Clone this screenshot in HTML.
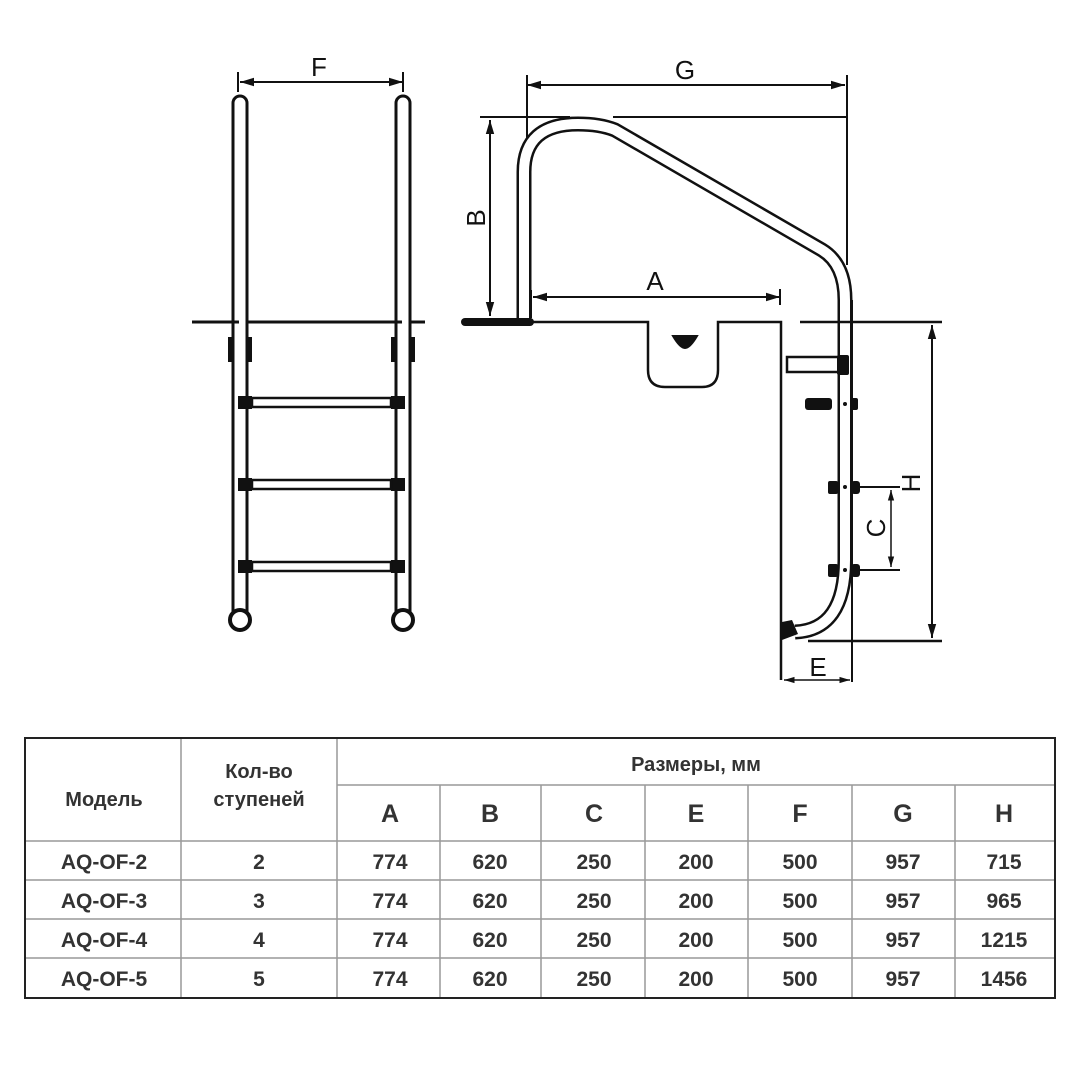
<!DOCTYPE html>
<html><head><meta charset="utf-8"><style>
html,body{margin:0;padding:0;background:#fff;}
body{width:1080px;height:1080px;overflow:hidden;font-family:"Liberation Sans",sans-serif;}
</style></head><body>
<svg width="1080" height="1080" viewBox="0 0 1080 1080" xmlns="http://www.w3.org/2000/svg" font-family="Liberation Sans, sans-serif">
<defs>
<marker id="ar" viewBox="0 0 10 10" refX="10" refY="5" markerWidth="7" markerHeight="7" orient="auto-start-reverse"><path d="M0,2 L10,5 L0,8 z" fill="#111"/></marker>
</defs>
<g stroke="#111" fill="none" stroke-width="2">
<!-- LEFT LADDER -->
<line x1="240" y1="82" x2="403" y2="82" marker-start="url(#ar)" marker-end="url(#ar)"/>
<line x1="238" y1="72" x2="238" y2="92"/><line x1="403" y1="72" x2="403" y2="92"/>
<line x1="192" y1="322" x2="425" y2="322" stroke-width="3"/>
<path d="M233,103 a7,7 0 0 1 14,0 V615 M233,103 V615" stroke-width="3" fill="#fff"/>
<path d="M396,103 a7,7 0 0 1 14,0 V615 M396,103 V615" stroke-width="3" fill="#fff"/>
<ellipse cx="240" cy="620" rx="10" ry="10" stroke-width="4" fill="#fff"/>
<ellipse cx="403" cy="620" rx="10" ry="10" stroke-width="4" fill="#fff"/>
<g fill="#111" stroke="none">
<rect x="228" y="337" width="5" height="25"/><rect x="247" y="337" width="5" height="25"/>
<rect x="391" y="337" width="5" height="25"/><rect x="410" y="337" width="5" height="25"/>
<rect x="238" y="396" width="14" height="13"/><rect x="391" y="396" width="14" height="13"/>
<rect x="238" y="478" width="14" height="13"/><rect x="391" y="478" width="14" height="13"/>
<rect x="238" y="560" width="14" height="13"/><rect x="391" y="560" width="14" height="13"/>
</g>
<rect x="252" y="398" width="139" height="9" stroke-width="2.5"/>
<rect x="252" y="480" width="139" height="9" stroke-width="2.5"/>
<rect x="252" y="562" width="139" height="9" stroke-width="2.5"/>

<!-- RIGHT SIDE -->
<line x1="527" y1="85" x2="845" y2="85" marker-start="url(#ar)" marker-end="url(#ar)"/>
<line x1="527" y1="75" x2="527" y2="140"/>
<line x1="847" y1="75" x2="847" y2="265"/>
<line x1="480" y1="117" x2="570" y2="117"/>
<line x1="613" y1="117" x2="847" y2="117"/>
<line x1="490" y1="120" x2="490" y2="316" marker-start="url(#ar)" marker-end="url(#ar)"/>
<line x1="533" y1="297" x2="780" y2="297" marker-start="url(#ar)" marker-end="url(#ar)"/>
<line x1="780" y1="289" x2="780" y2="305"/>
<line x1="531" y1="290" x2="531" y2="318"/>
<!-- rail -->
<path d="M524,320 V172 Q524,124 578,124 Q600,124 615,130 L822,250 Q845,264 845,300 V560 Q845,630 795,632" stroke-width="15"/>
<path d="M524,320 V172 Q524,124 578,124 Q600,124 615,130 L822,250 Q845,264 845,300 V560 Q845,630 795,632" stroke="#fff" stroke-width="10"/>
<!-- deck -->
<path d="M530,322 H648 V370 Q648,387 665,387 H702 Q718,387 718,370 V322 H781 V680" stroke-width="2.5"/>
<line x1="800" y1="322" x2="942" y2="322" stroke-width="2.5"/>
<line x1="465" y1="322" x2="530" y2="322" stroke-width="8" stroke-linecap="round"/>
<path d="M673,336 H697 Q690,348 685,348 Q680,348 673,336 z" fill="#111"/>
<rect x="787" y="357" width="52" height="15" fill="#fff" stroke-width="2.5"/>
<line x1="852" y1="300" x2="852" y2="682"/>
<line x1="932" y1="325" x2="932" y2="638" marker-start="url(#ar)" marker-end="url(#ar)"/>
<line x1="808" y1="641" x2="942" y2="641" stroke-width="2.5"/>
<line x1="784" y1="680" x2="850" y2="680" marker-start="url(#ar)" marker-end="url(#ar)" stroke-width="1.5"/>
<line x1="855" y1="487" x2="900" y2="487"/>
<line x1="855" y1="570" x2="900" y2="570"/>
<line x1="891" y1="490" x2="891" y2="567" marker-start="url(#ar)" marker-end="url(#ar)" stroke-width="1.5"/>
<g fill="#111" stroke="none">
<rect x="837" y="355" width="12" height="20" rx="2"/>
<rect x="805" y="398" width="27" height="12" rx="3"/>
<rect x="850" y="398" width="8" height="12" rx="2"/>
<rect x="828" y="481" width="10" height="13" rx="2"/><rect x="851" y="481" width="9" height="13" rx="3"/>
<rect x="828" y="564" width="10" height="13" rx="2"/><rect x="851" y="564" width="9" height="13" rx="3"/>
<circle cx="845" cy="404" r="2"/><circle cx="845" cy="487" r="2"/><circle cx="845" cy="570" r="2"/>
<path d="M782,622 L792,620 L798,634 L782,640 z"/>
</g>
</g>
<g fill="#111" font-size="26">
<text x="319" y="76" text-anchor="middle">F</text>
<text x="685" y="79" text-anchor="middle">G</text>
<text x="655" y="290" text-anchor="middle">A</text>
<text transform="translate(485,218) rotate(-90)" text-anchor="middle">B</text>
<text transform="translate(885,528) rotate(-90)" text-anchor="middle">C</text>
<text transform="translate(920,483) rotate(-90)" text-anchor="middle">H</text>
<text x="818" y="676" text-anchor="middle">E</text>
</g>

<!-- TABLE -->
<g stroke="#999" stroke-width="1.5">
<line x1="181" y1="738" x2="181" y2="998"/>
<line x1="337" y1="738" x2="337" y2="998"/>
<line x1="440" y1="785" x2="440" y2="998"/>
<line x1="541" y1="785" x2="541" y2="998"/>
<line x1="645" y1="785" x2="645" y2="998"/>
<line x1="748" y1="785" x2="748" y2="998"/>
<line x1="852" y1="785" x2="852" y2="998"/>
<line x1="955" y1="785" x2="955" y2="998"/>
<line x1="337" y1="785" x2="1055" y2="785"/>
<line x1="25" y1="841" x2="1055" y2="841"/>
<line x1="25" y1="880" x2="1055" y2="880"/>
<line x1="25" y1="919" x2="1055" y2="919"/>
<line x1="25" y1="958" x2="1055" y2="958"/>
</g>
<rect x="25" y="738" width="1030" height="260" fill="none" stroke="#222" stroke-width="2"/>
<g fill="#333" font-weight="bold" text-anchor="middle" font-size="20">
<text x="104" y="806">Модель</text>
<text x="259" y="778">Кол-во</text>
<text x="259" y="806">ступеней</text>
<text x="696" y="771">Размеры, мм</text>
<g font-size="25"><text x="390" y="822">A</text><text x="490" y="822">B</text><text x="594" y="822">C</text><text x="696" y="822">E</text><text x="800" y="822">F</text><text x="903" y="822">G</text><text x="1004" y="822">H</text></g>
<g font-size="21">
<text x="104" y="869">AQ-OF-2</text><text x="259" y="869">2</text><text x="390" y="869">774</text><text x="490" y="869">620</text><text x="594" y="869">250</text><text x="696" y="869">200</text><text x="800" y="869">500</text><text x="903" y="869">957</text><text x="1004" y="869">715</text>
<text x="104" y="908">AQ-OF-3</text><text x="259" y="908">3</text><text x="390" y="908">774</text><text x="490" y="908">620</text><text x="594" y="908">250</text><text x="696" y="908">200</text><text x="800" y="908">500</text><text x="903" y="908">957</text><text x="1004" y="908">965</text>
<text x="104" y="947">AQ-OF-4</text><text x="259" y="947">4</text><text x="390" y="947">774</text><text x="490" y="947">620</text><text x="594" y="947">250</text><text x="696" y="947">200</text><text x="800" y="947">500</text><text x="903" y="947">957</text><text x="1004" y="947">1215</text>
<text x="104" y="986">AQ-OF-5</text><text x="259" y="986">5</text><text x="390" y="986">774</text><text x="490" y="986">620</text><text x="594" y="986">250</text><text x="696" y="986">200</text><text x="800" y="986">500</text><text x="903" y="986">957</text><text x="1004" y="986">1456</text>
</g>
</g>
</svg>
</body></html>
